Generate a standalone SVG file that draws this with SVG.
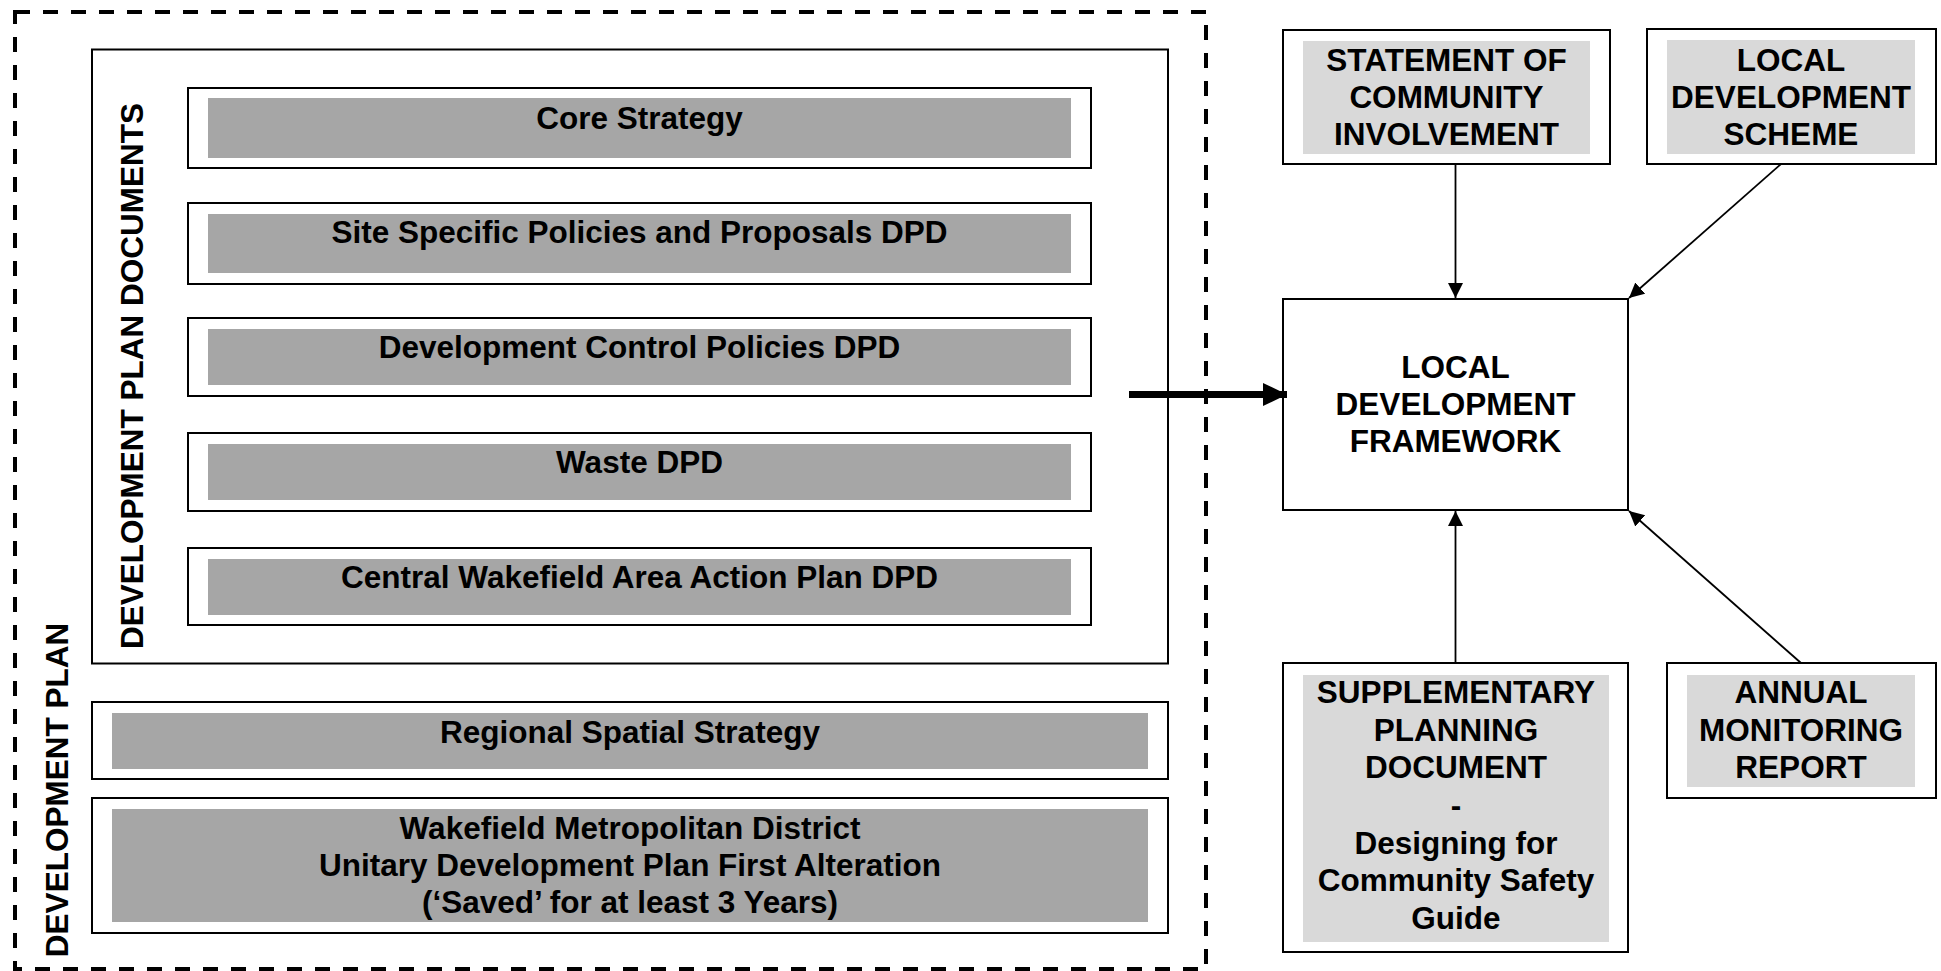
<svg xmlns="http://www.w3.org/2000/svg" width="1941" height="971" viewBox="0 0 1941 971">
<style>
  .box { fill: #ffffff; stroke: #000000; stroke-width: 2; }
  .g1 { fill: #a6a6a6; }
  .g2 { fill: #d9d9d9; }
  .t { font-family: "Liberation Sans", Arial, sans-serif; font-weight: bold; font-size: 31.5px; fill: #000000; text-anchor: middle; }
  .dash { fill: none; stroke: #000000; stroke-width: 4; stroke-dasharray: 15 13; }
  .conn { fill: none; stroke: #000000; stroke-width: 1.8; }
</style>
<defs>
  <marker id="ah" markerUnits="userSpaceOnUse" markerWidth="16" markerHeight="16" refX="15" refY="7.5" orient="auto">
    <path d="M0,0 L15,7.5 L0,15 z" fill="#000000"/>
  </marker>
  <marker id="ahBig" markerUnits="userSpaceOnUse" markerWidth="26" markerHeight="24" refX="24" refY="11.5" orient="auto">
    <path d="M0,0 L24,11.5 L0,23 z" fill="#000000"/>
  </marker>
</defs>
<rect width="1941" height="971" fill="#ffffff"/>

<g id="development-plan">
  <rect class="dash" x="15" y="12" width="1191" height="957"/>
  <text class="t" transform="translate(68,790) rotate(-90)">DEVELOPMENT PLAN</text>
</g>

<g id="development-plan-documents">
  <rect class="box" x="92" y="49.5" width="1076" height="614"/>
  <text class="t" transform="translate(143,376) rotate(-90)">DEVELOPMENT PLAN DOCUMENTS</text>
</g>

<g id="core-strategy">
  <rect class="box" x="188" y="88" width="903" height="80"/>
  <rect class="g1" x="208" y="98" width="863" height="60"/>
  <text class="t" x="639.5" y="129">Core Strategy</text>
</g>
<g id="site-specific">
  <rect class="box" x="188" y="203" width="903" height="81"/>
  <rect class="g1" x="208" y="214" width="863" height="59"/>
  <text class="t" x="639.5" y="243">Site Specific Policies and Proposals DPD</text>
</g>
<g id="development-control">
  <rect class="box" x="188" y="318" width="903" height="78"/>
  <rect class="g1" x="208" y="329" width="863" height="56"/>
  <text class="t" x="639.5" y="358">Development Control Policies DPD</text>
</g>
<g id="waste">
  <rect class="box" x="188" y="433" width="903" height="78"/>
  <rect class="g1" x="208" y="444" width="863" height="56"/>
  <text class="t" x="639.5" y="473">Waste DPD</text>
</g>
<g id="central-wakefield">
  <rect class="box" x="188" y="548" width="903" height="77"/>
  <rect class="g1" x="208" y="559" width="863" height="56"/>
  <text class="t" x="639.5" y="588">Central Wakefield Area Action Plan DPD</text>
</g>

<g id="regional-spatial-strategy">
  <rect class="box" x="92" y="702" width="1076" height="77"/>
  <rect class="g1" x="112" y="713" width="1036" height="56"/>
  <text class="t" x="630" y="743">Regional Spatial Strategy</text>
</g>
<g id="udp">
  <rect class="box" x="92" y="798" width="1076" height="135"/>
  <rect class="g1" x="112" y="809" width="1036" height="113"/>
  <text class="t" x="630" y="839">Wakefield Metropolitan District</text>
  <text class="t" x="630" y="876">Unitary Development Plan First Alteration</text>
  <text class="t" x="630" y="913">(‘Saved’ for at least 3 Years)</text>
</g>

<g id="sci">
  <rect class="box" x="1283" y="30" width="327" height="134"/>
  <rect class="g2" x="1303" y="41" width="287" height="113"/>
  <text class="t" x="1446.5" y="71">STATEMENT OF</text>
  <text class="t" x="1446.5" y="108">COMMUNITY</text>
  <text class="t" x="1446.5" y="145">INVOLVEMENT</text>
</g>
<g id="lds">
  <rect class="box" x="1647" y="29" width="289" height="135"/>
  <rect class="g2" x="1667" y="40" width="248" height="114"/>
  <text class="t" x="1791" y="71">LOCAL</text>
  <text class="t" x="1791" y="108">DEVELOPMENT</text>
  <text class="t" x="1791" y="145">SCHEME</text>
</g>
<g id="ldf">
  <rect class="box" x="1283" y="299" width="345" height="211"/>
  <text class="t" x="1455.5" y="378">LOCAL</text>
  <text class="t" x="1455.5" y="415">DEVELOPMENT</text>
  <text class="t" x="1455.5" y="452">FRAMEWORK</text>
</g>
<g id="spd">
  <rect class="box" x="1283" y="663" width="345" height="289"/>
  <rect class="g2" x="1303" y="675" width="306" height="267"/>
  <text class="t" x="1456" y="703">SUPPLEMENTARY</text>
  <text class="t" x="1456" y="741">PLANNING</text>
  <text class="t" x="1456" y="778">DOCUMENT</text>
  <text class="t" x="1456" y="816">-</text>
  <text class="t" x="1456" y="854">Designing for</text>
  <text class="t" x="1456" y="891">Community Safety</text>
  <text class="t" x="1456" y="929">Guide</text>
</g>
<g id="amr">
  <rect class="box" x="1667" y="663" width="269" height="135"/>
  <rect class="g2" x="1687" y="675" width="228" height="112"/>
  <text class="t" x="1801" y="703">ANNUAL</text>
  <text class="t" x="1801" y="741">MONITORING</text>
  <text class="t" x="1801" y="778">REPORT</text>
</g>

<g id="connectors">
  <line class="conn" x1="1455.5" y1="164" x2="1455.5" y2="298" marker-end="url(#ah)"/>
  <line class="conn" x1="1781" y1="164" x2="1629" y2="298" marker-end="url(#ah)"/>
  <line class="conn" x1="1455.5" y1="663" x2="1455.5" y2="511" marker-end="url(#ah)"/>
  <line class="conn" x1="1801" y1="663" x2="1629" y2="511" marker-end="url(#ah)"/>
  <line x1="1129" y1="394.5" x2="1287" y2="394.5" stroke="#000000" stroke-width="7" marker-end="url(#ahBig)"/>
</g>
</svg>
